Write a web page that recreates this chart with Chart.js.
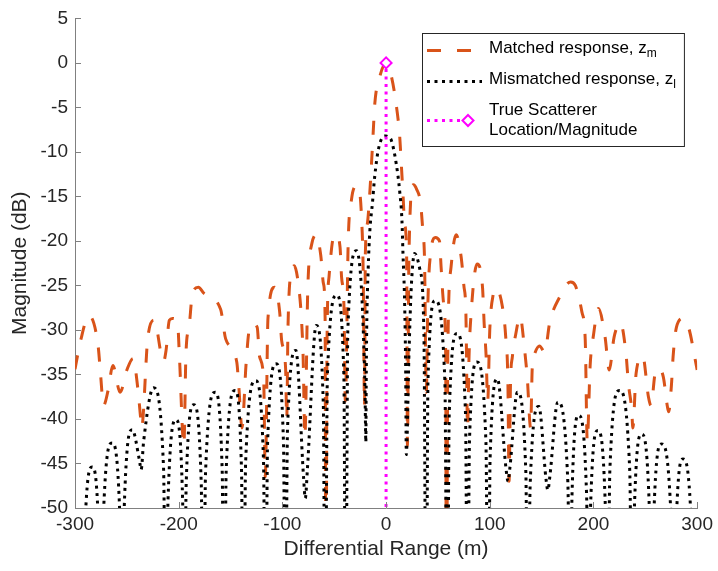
<!DOCTYPE html>
<html>
<head>
<meta charset="utf-8">
<script src="https://cdn.jsdelivr.net/npm/chart.js@4.4.0/dist/chart.umd.min.js"></script>
<style>
  html, body { margin: 0; padding: 0; background: #fff; }
  #wrap { width: 718px; height: 571px; }
</style>
</head>
<body>
<div id="wrap"><canvas id="chart" width="718" height="571"></canvas></div>
<script>
// Range axis (m) and magnitudes (dB) of the two filter responses
const mismatchedRange = [
  -300, -293, -291.1, -283.5, -276.7, -275, -272.9, -264.3, -256.5, -254.5,
  -252.6, -244.8, -237.9, -236.2, -233.8, -224.3, -214.6, -212.2, -210.3, -202.6,
  -196.2, -194.6, -192.8, -185.5, -178.2, -176.4, -174.1, -164.9, -158, -156.3,
  -154.2, -145.7, -139.4, -137.8, -135.4, -125.9, -118.2, -116.3, -114.3, -106.1,
  -98.9, -97.1, -95.1, -87, -79.6, -77.9, -75.8, -67.4, -60.5, -58.8,
  -56.6, -47.6, -40.7, -39, -36.9, -28.5, -24.5, -22, -20.3, -19.5,
  -19.2, -18.7, -17.3, -15.6, -13.2, -10.9, -7.7, -3, 0, 3,
  5.1, 9.9, 13.1, 15.3, 16.3, 17.9, 18.9, 19.5, 22.1, 24.3,
  27.5, 32.6, 36.5, 38.7, 40.4, 47.3, 56.7, 59, 60.9, 68.4,
  76.6, 78.6, 80.4, 87.6, 96.3, 98.5, 100.3, 107.4, 115.6, 117.6,
  119.4, 126.6, 134.8, 136.8, 138.9, 147.3, 154.3, 156, 157.9, 165.6,
  175.3, 177.7, 179.3, 185.7, 193.4, 195.3, 197.1, 204.2, 211.6, 213.5,
  215.8, 225, 235, 237.5, 239.3, 246.4, 254.1, 256, 257.9, 265.6,
  275.1, 277.5, 279.3, 286.4, 294.9, 297, 300
];
const mismatchedDb = [
  -60, -70, -54.4, -45.4, -54.4, -70, -51.7, -42.7, -51.7, -70,
  -50.2, -41.2, -44.6, -45.7, -42.5, -36.5, -45.5, -70, -49.1, -40.1,
  -49.1, -70, -47.4, -38.4, -47.4, -70, -46, -37, -46, -70,
  -45.8, -36.8, -45.8, -70, -44.7, -35.7, -44.7, -70, -42.8, -33.8,
  -42.8, -70, -41.3, -32.3, -46.5, -48.9, -45.5, -29.5, -38.5, -70,
  -35.1, -26.1, -35.1, -70, -30.1, -21.1, -24, -30, -37, -42.6,
  -36.5, -30, -23.3, -18.8, -15.8, -12.7, -9.9, -8.3, -8.2, -8.4,
  -8.7, -11.4, -14.4, -17.7, -21.4, -27, -34.5, -44, -32.6, -25.2,
  -21.4, -23.2, -30.4, -70, -35.7, -26.7, -35.7, -70, -39.4, -30.4,
  -39.4, -70, -42.6, -33.6, -42.6, -70, -44.5, -35.5, -45.5, -47,
  -45.5, -37, -46, -70, -47.6, -38.6, -46.8, -48, -46.5, -38.1,
  -47.1, -70, -48.6, -39.6, -48.6, -70, -50.3, -41.3, -50.3, -70,
  -45.8, -36.8, -45.8, -70, -50.7, -41.7, -50.7, -70, -51.8, -42.8,
  -51.8, -70, -53.5, -44.5, -53.5, -70, -60
];

const matchedRange = [
  -300, -294.6, -286.5, -277.7, -275.4, -272.5, -268.1, -263.5, -256.5, -250,
  -244, -239.4, -236.8, -235.8, -229.8, -223.5, -216.9, -214.5, -212.2, -209,
  -206, -201, -199.4, -195, -193, -189.8, -186.7, -181, -175.5, -159.5,
  -154.7, -144, -142, -139, -135, -132.3, -128.3, -124.3, -122, -118,
  -116.5, -113.9, -107.5, -102.6, -100.7, -96.9, -95.8, -94.6, -90.8, -88.5,
  -84.4, -81.8, -80, -78.3, -75.7, -74.8, -71.6, -67.5, -63, -60.4,
  -58.8, -58, -57, -55, -50.8, -48, -44.4, -42.9, -40.6, -39.3,
  -36.5, -33.3, -28.5, -25.9, -23.7, -22, -20.8, -20, -18, -15.6,
  -14.1, -12.5, -10.9, -6, 0, 5.1, 9.9, 13.1, 14.7, 16.3,
  17.9, 19.8, 20.6, 22, 26.2, 29.5, 33.3, 35.5, 37.1, 38.8,
  40.3, 43.4, 47.5, 51.5, 53.1, 55.5, 57.5, 58.2, 59.5, 62.6,
  67.5, 72.4, 75, 77, 78.6, 80, 81.8, 87.8, 93, 94.6,
  96.5, 98, 100, 103.5, 106, 112.2, 115.4, 117.5, 118.6, 120,
  121.8, 125, 129.3, 133.3, 136.2, 139.4, 141, 143.5, 148, 153,
  157.9, 166.5, 178, 182.5, 188.9, 192.1, 194, 196.8, 200, 204.8,
  211.2, 215.2, 219.9, 226, 231.4, 233.7, 236.9, 238, 241.1, 247.5,
  253, 255.5, 259.4, 263, 267.4, 271.3, 272.5, 275.2, 276.8, 280,
  286.5, 292.2, 297.6, 300
];
const matchedDb = [
  -34.4, -31.2, -28.4, -31.8, -34.9, -38.5, -36.8, -34, -37, -34.5,
  -33.2, -36.6, -39.8, -41, -30.9, -28.9, -32.7, -33.5, -32.3, -28.9,
  -28.7, -29.3, -32.7, -43, -32.7, -29.5, -25.9, -25.2, -25.9, -27.7,
  -31, -33.6, -36.4, -41, -33.8, -30.2, -29.3, -29.7, -33, -35.7,
  -46.5, -28.7, -25.2, -28, -31.2, -34.3, -40, -29.7, -23.3, -22.8,
  -25, -28.4, -33, -42, -26.3, -23.3, -20.3, -19.3, -21.6, -24.8,
  -28.6, -70, -32, -24, -19.6, -19.3, -20.7, -24.1, -27.4, -38,
  -20, -15.3, -13.8, -14.2, -17.3, -24, -38.5, -21.5, -18, -14.4,
  -11.4, -8, -4.6, -1.5, 0, -1.5, -4.8, -8.2, -11.4, -14.7,
  -18.1, -21.5, -43, -22, -13.7, -14.2, -15.8, -19, -22.2, -37,
  -27, -21, -19.6, -20, -23, -27, -33, -70, -33, -23,
  -19.3, -21.8, -25, -28.2, -41, -33, -28.5, -22.6, -25.2, -29.3,
  -33, -38, -30, -25.9, -25.3, -27.4, -30.8, -36, -47, -36,
  -33, -30.5, -28.5, -31.9, -35.4, -41, -34.2, -32.6, -31.8, -32.5,
  -29.1, -26.5, -24.6, -25, -28, -31.2, -42.5, -34, -30.6, -27.6,
  -30.8, -34.5, -30.8, -29.2, -32.7, -36, -39, -41, -34.9, -32.9,
  -37.5, -38.5, -34.9, -34.3, -35.3, -38.6, -39.2, -36.2, -33, -29.7,
  -28.7, -29.9, -33, -34.5
];

// True scatterer: one stem at zero range, 0 dB
const scattererRange = [0, 0];
const scattererDb = [-60, 0];

const xTickStep = 100;
const yTickStep = 5;

const FONT = '"Liberation Sans", Arial, Helvetica, sans-serif';
const AXIS_COLOR = '#808080';
const TEXT_COLOR = '#262626';
const ORANGE = '#D95319';
const MAGENTA = '#FF00FF';

const toPoints = (xs, ys) => xs.map((x, i) => ({ x: x, y: ys[i] }));

// MATLAB style tick marks pointing into the axes
const innerTicks = {
  id: 'innerTicks',
  afterDatasetsDraw(chart) {
    const { ctx, chartArea: a, scales: { x, y } } = chart;
    ctx.save();
    ctx.strokeStyle = AXIS_COLOR;
    ctx.lineWidth = 1;
    ctx.beginPath();
    x.ticks.forEach(t => {
      const px = Math.round(x.getPixelForValue(t.value)) + 0.5;
      ctx.moveTo(px, a.bottom);
      ctx.lineTo(px, a.bottom - 6);
    });
    y.ticks.forEach(t => {
      const py = Math.round(y.getPixelForValue(t.value)) + 0.5;
      ctx.moveTo(a.left, py);
      ctx.lineTo(a.left + 6, py);
    });
    ctx.stroke();
    ctx.restore();
  }
};

// legend box with subscripted labels
const legendBox = {
  id: 'legendBox',
  afterDraw(chart) {
    const ctx = chart.ctx;
    const left = 422, top = 33, height = 113;
    const lineX0 = 427, lineX1 = 482, textX = 489;
    const size = 17, subSize = 12;
    const entries = [
      { y: 50.5, text: ['Matched response, z'], sub: 'm' },
      { y: 81.5, text: ['Mismatched response, z'], sub: 'l' },
      { y: 120.5, text: ['True Scatterer', 'Location/Magnitude'] }
    ];

    ctx.save();
    ctx.font = size + 'px ' + FONT;
    let maxW = 0;
    entries.forEach(e => {
      e.text.forEach(t => {
        let w = ctx.measureText(t).width;
        if (e.sub) {
          ctx.font = subSize + 'px ' + FONT;
          w += ctx.measureText(e.sub).width;
          ctx.font = size + 'px ' + FONT;
        }
        maxW = Math.max(maxW, w);
      });
    });
    const width = textX - left + maxW + 8;

    ctx.fillStyle = '#fff';
    ctx.fillRect(left, top, width, height);
    ctx.strokeStyle = TEXT_COLOR;
    ctx.lineWidth = 1;
    ctx.strokeRect(left + 0.5, top + 0.5, width, height);

    // line samples
    ctx.lineCap = 'butt';
    ctx.lineWidth = 3;
    ctx.strokeStyle = ORANGE;
    ctx.setLineDash([14, 16]);
    ctx.beginPath(); ctx.moveTo(lineX0, entries[0].y); ctx.lineTo(lineX1, entries[0].y); ctx.stroke();
    ctx.strokeStyle = '#000';
    ctx.setLineDash([3, 4.5]);
    ctx.beginPath(); ctx.moveTo(lineX0, entries[1].y); ctx.lineTo(lineX1, entries[1].y); ctx.stroke();
    ctx.strokeStyle = MAGENTA;
    ctx.beginPath(); ctx.moveTo(lineX0, entries[2].y); ctx.lineTo(468, entries[2].y); ctx.stroke();
    ctx.setLineDash([]);
    ctx.lineWidth = 2;
    ctx.fillStyle = '#fff';
    const r = 5.5, cx = 468, cy = entries[2].y;
    ctx.beginPath();
    ctx.moveTo(cx, cy - r); ctx.lineTo(cx + r, cy); ctx.lineTo(cx, cy + r); ctx.lineTo(cx - r, cy); ctx.closePath();
    ctx.fill(); ctx.stroke();

    // labels
    ctx.fillStyle = '#000';
    ctx.textBaseline = 'middle';
    ctx.textAlign = 'left';
    entries.forEach(e => {
      if (e.text.length === 1) {
        ctx.font = size + 'px ' + FONT;
        ctx.fillText(e.text[0], textX, e.y - 2);
        const w = ctx.measureText(e.text[0]).width;
        ctx.font = subSize + 'px ' + FONT;
        ctx.fillText(e.sub, textX + w, e.y + 3);
      } else {
        ctx.font = size + 'px ' + FONT;
        ctx.fillText(e.text[0], textX, e.y - 10.5);
        ctx.fillText(e.text[1], textX, e.y + 9.5);
      }
    });
    ctx.restore();
  }
};

new Chart(document.getElementById('chart'), {
  type: 'line',
  data: {
    datasets: [
      {
        label: 'True Scatterer Location/Magnitude',
        data: toPoints(scattererRange, scattererDb),
        borderColor: MAGENTA,
        borderWidth: 3,
        borderDash: [3, 4.5],
        pointRadius: [0, 5.5],
        pointStyle: 'rectRot',
        pointBorderColor: MAGENTA,
        pointBackgroundColor: '#fff',
        pointBorderWidth: 2,
        clip: { left: 0, right: 0, top: 10, bottom: 0 },
        order: 1
      },
      {
        label: 'Mismatched response',
        data: toPoints(mismatchedRange, mismatchedDb),
        borderColor: '#000',
        borderWidth: 3,
        borderDash: [3, 4.5],
        cubicInterpolationMode: 'monotone',
        pointRadius: 0,
        clip: 0,
        order: 2
      },
      {
        label: 'Matched response',
        data: toPoints(matchedRange, matchedDb),
        borderColor: ORANGE,
        borderWidth: 3,
        borderDash: [14, 16],
        cubicInterpolationMode: 'monotone',
        pointRadius: 0,
        clip: 0,
        order: 3
      }
    ]
  },
  options: {
    responsive: false,
    animation: false,
    devicePixelRatio: 1,
    layout: { padding: { left: 0, right: 18, top: 17.4, bottom: 0 } },
    plugins: { legend: { display: false }, tooltip: { enabled: false } },
    scales: {
      x: {
        type: 'linear',
        min: -300,
        max: 300,
        ticks: { stepSize: xTickStep, padding: 5, maxRotation: 0, color: TEXT_COLOR, font: { family: FONT, size: 19 } },
        grid: { display: false, drawTicks: false },
        border: { color: AXIS_COLOR, width: 1 },
        title: { display: true, text: 'Differential Range (m)', color: TEXT_COLOR, font: { family: FONT, size: 21 }, padding: { top: 0, bottom: 9 } },
        afterFit(scale) { scale.height = 63; }
      },
      y: {
        type: 'linear',
        min: -50,
        max: 5,
        ticks: { stepSize: yTickStep, padding: 7, color: TEXT_COLOR, font: { family: FONT, size: 19 } },
        grid: { display: false, drawTicks: false },
        border: { color: AXIS_COLOR, width: 1 },
        title: { display: true, text: 'Magnitude (dB)', color: TEXT_COLOR, font: { family: FONT, size: 21 }, padding: { top: 8, bottom: 0 } },
        afterFit(scale) { scale.width = 75; }
      }
    }
  },
  plugins: [innerTicks, legendBox]
});
</script>
</body>
</html>
